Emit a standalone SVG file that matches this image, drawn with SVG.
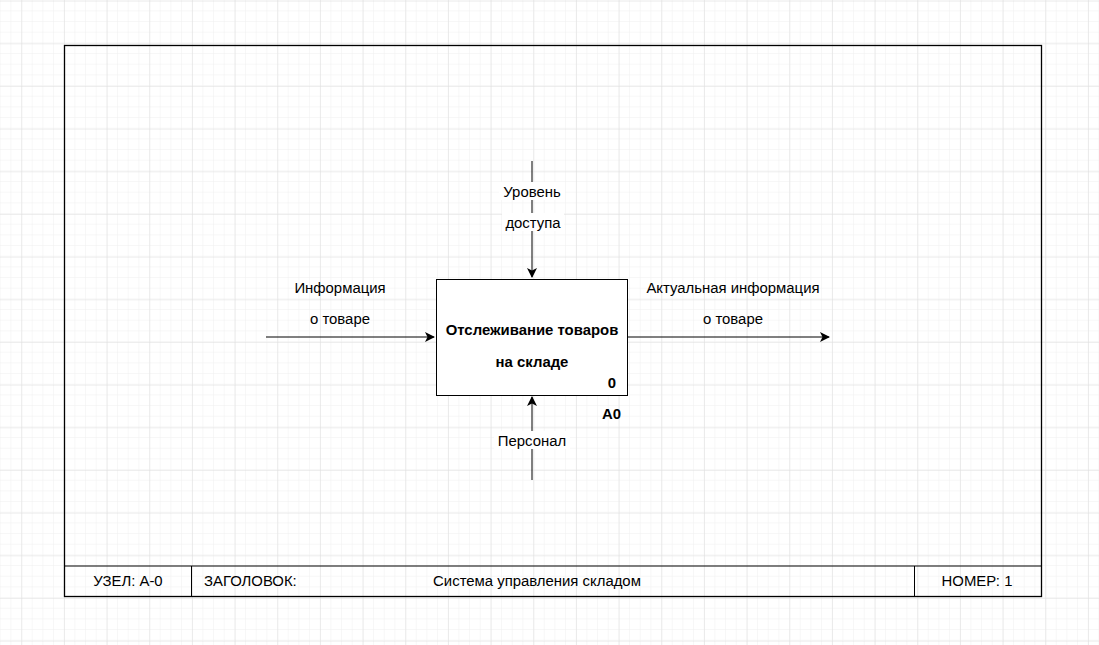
<svg xmlns="http://www.w3.org/2000/svg" width="1099" height="645" viewBox="0 0 1099 645">
<style>
text{font-family:"Liberation Sans",Arial,sans-serif;font-size:14.9px;fill:#000}
.b{font-weight:bold}
.m{text-anchor:middle}
.ln{stroke:#000;stroke-width:1;fill:none}
.bg{fill:#fff}
</style>
<defs>
<pattern id="minor" patternUnits="userSpaceOnUse" x="0.67" y="0.67" width="10.667" height="10.667">
<path d="M10.667 0V10.667M0 10.667H10.667" stroke="#f0f0f0" stroke-width="1" fill="none"/>
</pattern>
<pattern id="major" patternUnits="userSpaceOnUse" x="21.33" y="0.67" width="42.667" height="42.667">
<path d="M0 0V42.667M0 0H42.667" stroke="#dedede" stroke-width="1" fill="none"/>
</pattern>
<marker id="arr" viewBox="0 0 10 10" refX="9" refY="5" markerWidth="10" markerHeight="10" markerUnits="userSpaceOnUse" orient="auto">
<path d="M0 0L10 5L0 10L2.5 5Z" fill="#000"/>
</marker>
</defs>
<rect width="1099" height="645" fill="#fff"/>
<rect width="1099" height="645" fill="url(#minor)"/>
<rect width="1099" height="645" fill="url(#major)"/>
<g id="frame">
<rect x="64.5" y="45.5" width="977" height="551" fill="none" stroke="#000" stroke-width="1.3"/>
<path class="ln" d="M64.5 566H1041.5M191.5 566V597M914.5 566V597"/>
<text class="m" x="128" y="586">УЗЕЛ: А-0</text>
<text x="204" y="586">ЗАГОЛОВОК:</text>
<text class="m" x="537" y="586">Система управления складом</text>
<text class="m" x="977" y="586">НОМЕР: 1</text>
</g>
<g id="connectors">
<path class="ln" d="M266 337H434" marker-end="url(#arr)"/>
<path class="ln" d="M627 337H829" marker-end="url(#arr)"/>
<path class="ln" d="M532 161V277" marker-end="url(#arr)"/>
<path class="ln" d="M532 480V397" marker-end="url(#arr)"/>
</g>
<g id="label-input">
<text class="m" x="340" y="293">Информация</text>
<text class="m" x="340" y="324">о товаре</text>
</g>
<g id="label-output">
<text class="m" x="733" y="293">Актуальная информация</text>
<text class="m" x="733" y="324">о товаре</text>
</g>
<g id="label-control">
<rect class="bg" x="499" y="182" width="66" height="18"/>
<rect class="bg" x="502" y="213" width="62" height="18"/>
<text class="m" x="532" y="197">Уровень</text>
<text class="m" x="533" y="228">доступа</text>
</g>
<g id="label-mechanism">
<rect class="bg" x="494" y="431" width="76" height="18"/>
<text class="m" x="532" y="446">Персонал</text>
</g>
<g id="node-A0">
<rect x="436.5" y="279.5" width="191" height="116" fill="#fff" stroke="#000" stroke-width="1"/>
<text class="m b" x="532" y="335">Отслеживание товаров</text>
<text class="m b" x="532" y="367">на складе</text>
<text class="b" x="616" y="388" text-anchor="end">0</text>
<text class="b" x="621" y="419" text-anchor="end">A0</text>
</g>
</svg>
